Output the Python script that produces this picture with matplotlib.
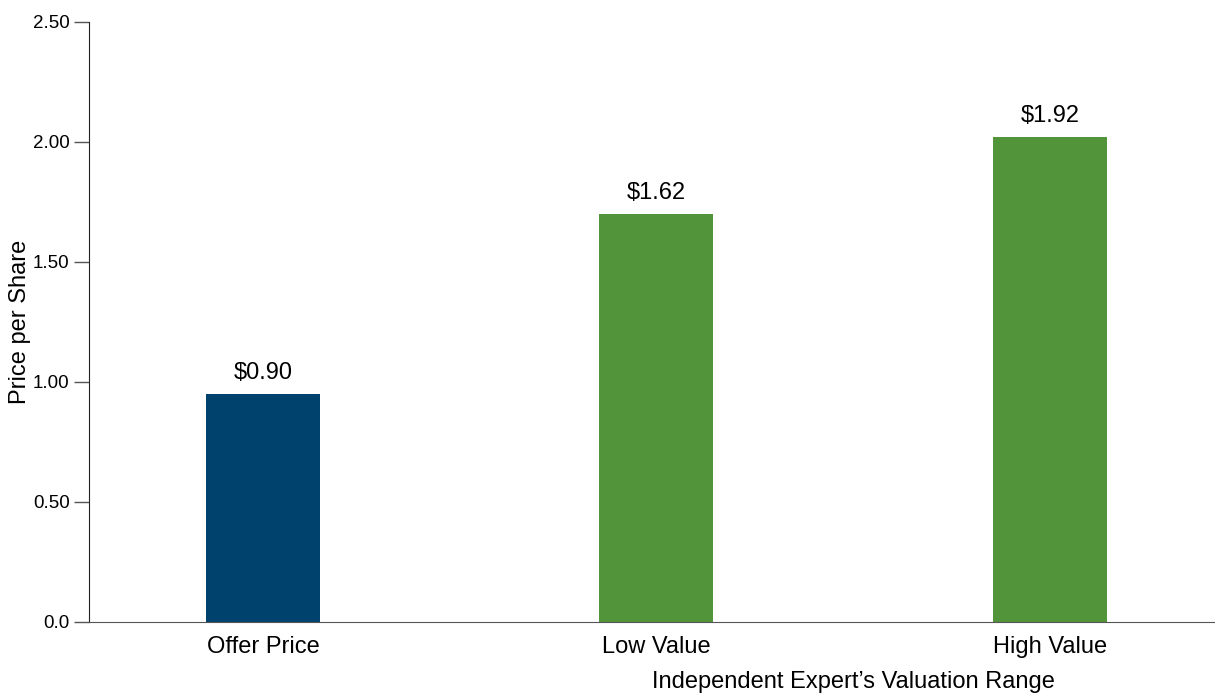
import numpy as np
import matplotlib.pyplot as plt

plt.rcParams['font.family'] = ['Liberation Sans', 'DejaVu Sans']

categories = ['Offer Price', 'Low Value', 'High Value']
heights = [0.95, 1.70, 2.02]
labels = ['$0.90', '$1.62', '$1.92']
colors = ['#00426e', '#52943a', '#52943a']
yticks = [0.0, 0.5, 1.0, 1.5, 2.0, 2.5]
ytick_labels = ['0.0', '0.50', '1.00', '1.50', '2.00', '2.50']

fig = plt.figure(figsize=(12.15, 6.97), dpi=100)
ax = fig.add_axes([89 / 1215, 75 / 697, 1126 / 1215, 600 / 697])

x = np.arange(len(categories))
bars = ax.bar(x, heights, width=0.29, color=colors)

for b, lab in zip(bars, labels):
    ax.annotate(lab, (b.get_x() + b.get_width() / 2, b.get_height()),
                xytext=(0, 7), textcoords='offset points',
                ha='center', va='bottom', fontsize=17)

ax.set_xlim(-0.442, 2.42)
ax.set_ylim(0, 2.5)
ax.set_xticks(x)
ax.set_xticklabels(categories, fontsize=17)
ax.set_yticks(yticks)
ax.set_yticklabels(ytick_labels, fontsize=13.5)
ax.tick_params(axis='x', length=0, pad=10)
ax.tick_params(axis='y', length=11, width=1, color='#555555', pad=3)

ax.spines['top'].set_visible(False)
ax.spines['right'].set_visible(False)
ax.spines['left'].set_color('#222222')
ax.spines['bottom'].set_color('#555555')

ax.set_ylabel('Price per Share', fontsize=17, labelpad=1)
ax.text(1.5, -0.1, 'Independent Expert\u2019s Valuation Range',
        transform=ax.get_xaxis_transform(), ha='center', va='center', fontsize=17)

fig.savefig('out.png', dpi=100)
